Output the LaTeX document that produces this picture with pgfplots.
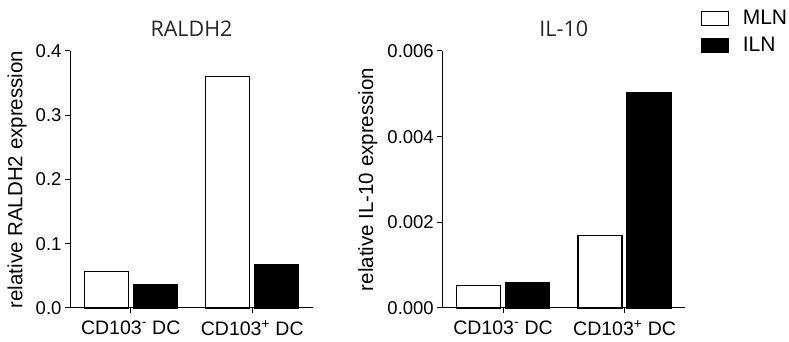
\documentclass[border=0pt]{standalone}
\usepackage{fontspec}
\setmainfont{Liberation Sans}
\newfontfamily\titlefont{Open Sans}
\usepackage{pgfplots}
\pgfplotsset{compat=1.18}

\pgfplotsset{
  dcbars/.style={
    scale only axis, width=243pt, height=257pt,
    anchor=south west,
    axis lines*=left, axis line style={-, line width=1pt},
    xmin=-0.5, xmax=1.5, ymin=0,
    xtick={0,1},
    xticklabels={CD103\textsuperscript{-} DC, CD103\textsuperscript{+} DC},
    tick align=outside, major tick length=5pt,
    tick style={black, line width=1pt},
    yticklabel style={font=\fontsize{18.5}{20}\selectfont},
    xticklabel style={font=\fontsize{19.5}{21}\selectfont, yshift=-4pt},
    ylabel style={font=\fontsize{20.5}{22}\selectfont},
    title style={font=\titlefont\fontsize{21.5}{24}\selectfont, color=black!85,
      at={(axis description cs:0.5,1)}, anchor=south, yshift=5pt},
    /pgf/number format/assume math mode=true,
    ybar, bar width=44pt,
    clip=false,
  },
  boxlegend/.style={
    legend image code/.code={\draw[##1, line width=1.2pt] (0pt,-7pt) rectangle (27pt,7pt);}
  },
}

\begin{document}
\begin{tikzpicture}
\useasboundingbox (0,0) rectangle (789pt,342pt);

% RALDH2 panel
\begin{axis}[dcbars, at={(70pt,34pt)},
  ymax=0.4, ytick={0,0.1,0.2,0.3,0.4},
  yticklabel style={/pgf/number format/.cd, fixed, fixed zerofill, precision=1},
  title={RALDH2},
  ylabel={relative RALDH2 expression},
  ylabel style={at={(axis description cs:-0.218,0.5)}, anchor=center},
]
\addplot[bar shift=-24.5pt, draw=black, fill=white, line width=1.2pt]
  coordinates {(0,0.057) (1,0.36)};
\addplot[bar shift=24.5pt, draw=black, fill=black, line width=1.2pt]
  coordinates {(0,0.036) (1,0.068)};
\end{axis}

% IL-10 panel
\begin{axis}[dcbars, at={(442.3pt,34pt)},
  ymax=0.006, ytick={0,0.002,0.004,0.006}, scaled y ticks=false,
  yticklabel style={/pgf/number format/.cd, fixed, fixed zerofill, precision=3},
  title={IL-10},
  ylabel={relative IL-10 expression},
  ylabel style={at={(axis description cs:-0.306,0.5)}, anchor=center},
  legend style={draw=none, fill=none, at={(1.062,1.163)}, anchor=north west,
    inner sep=0pt, row sep=9pt, font=\fontsize{21}{23}\selectfont,
    nodes={inner sep=1pt},
    /tikz/every odd column/.append style={column sep=13pt}},
  legend cell align=left,
]
\addplot[bar shift=-24.5pt, draw=black, fill=white, line width=1.2pt, boxlegend]
  coordinates {(0,0.00052) (1,0.0017)};
\addlegendentry{MLN}
\addplot[bar shift=24.5pt, draw=black, fill=black, line width=1.2pt, boxlegend]
  coordinates {(0,0.0006) (1,0.00502)};
\addlegendentry{ILN}
\end{axis}
\end{tikzpicture}
\end{document}
